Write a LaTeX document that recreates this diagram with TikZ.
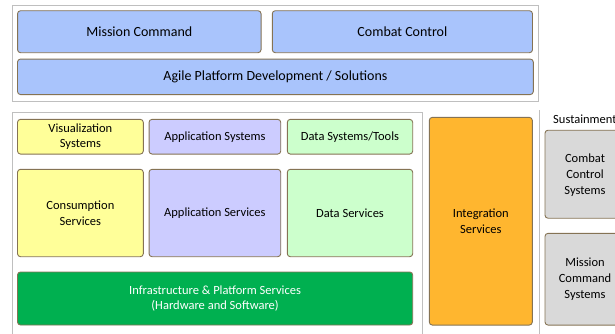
\documentclass[tikz,border=0pt]{standalone}
\usepackage{fontspec}
\setmainfont{Carlito}
\begin{document}
\begin{tikzpicture}[x=1pt,y=-1pt]
  % Colors
  \definecolor{topblue}{HTML}{A9C4FC}
  \definecolor{vizyellow}{HTML}{FFFF99}
  \definecolor{applilac}{HTML}{CCCCFF}
  \definecolor{datagreen}{HTML}{CCFFCC}
  \definecolor{infragreen}{HTML}{00B050}
  \definecolor{integorange}{HTML}{FFB62F}
  \definecolor{sustgrey}{HTML}{D9D9D9}
  \definecolor{boxedge}{HTML}{857354}
  \definecolor{frameline}{HTML}{BFBFBF}

  % Styles
  \tikzstyle{block}=[draw=boxedge,line width=0.9pt,rounded corners=3pt,align=center,
    inner sep=0pt,font=\fontsize{12.5}{15.6}\selectfont]
  \tikzstyle{big block}=[block,font=\fontsize{14}{17}\selectfont,fill=topblue]
  \tikzstyle{frame}=[draw=frameline,line width=0.9pt]

  % The graphic
  \clip (0,0) rectangle (615,333);

  % Top layer
  \draw[style=frame] (12.3,5.3) rectangle (538.5,101);
  \node[big block,minimum width=243.5pt,minimum height=42pt] (mission) at (139.3,31.7) {Mission Command};
  \node[big block,minimum width=260.2pt,minimum height=42pt] (combat) at (402.4,31.7) {Combat Control};
  \node[big block,minimum width=515.8pt,minimum height=35.5pt] (agile) at (275.4,76.8) {Agile Platform Development / Solutions};

  % Services layer
  \draw[style=frame] (12.3,340) -- (12.3,112) -- (422.3,112) -- (422.3,340);
  \begin{scope}[every node/.style={block,minimum height=34.7pt}]
    \node[fill=vizyellow,minimum width=125.8pt] (viz) at (80.4,136.7) {Visualization\\Systems};
    \node[fill=applilac,minimum width=131.7pt] (appsys) at (214.9,136.7) {Application Systems};
    \node[fill=datagreen,minimum width=125.4pt] (datasys) at (350,136.7) {Data Systems/Tools};
  \end{scope}
  \begin{scope}[every node/.style={block,minimum height=87.4pt}]
    \node[fill=vizyellow,minimum width=125.8pt] (consume) at (80.4,213) {Consumption\\Services};
    \node[fill=applilac,minimum width=131.7pt] (appserv) at (214.9,213) {Application Services};
    \node[fill=datagreen,minimum width=125.4pt] (dataserv) at (350,213) {Data Services};
  \end{scope}
  \node[block,fill=infragreen,text=white,minimum width=395.2pt,minimum height=53pt] (infra) at (215.1,298.5)
    {Infrastructure \& Platform Services\\(Hardware and Software)};

  \node[block,fill=integorange,minimum width=103pt,minimum height=207.7pt] (integ) at (480.8,221.2)
    {Integration\\Services};

  % Sustainment
  \draw[style=frame] (539,110) -- (539,340);
  \node[anchor=west,inner sep=0pt,font=\fontsize{12.5}{15}\selectfont] (sustain) at (553,119) {Sustainment};
  \node[block,fill=sustgrey,minimum width=80pt,minimum height=88pt,text depth=0pt] (ccsys) at (585,174.2)
    {Combat\\Control\\Systems};
  \node[block,fill=sustgrey,minimum width=80pt,minimum height=91.7pt] (mcsys) at (585,279.2)
    {Mission\\Command\\Systems};
\end{tikzpicture}
\end{document}
